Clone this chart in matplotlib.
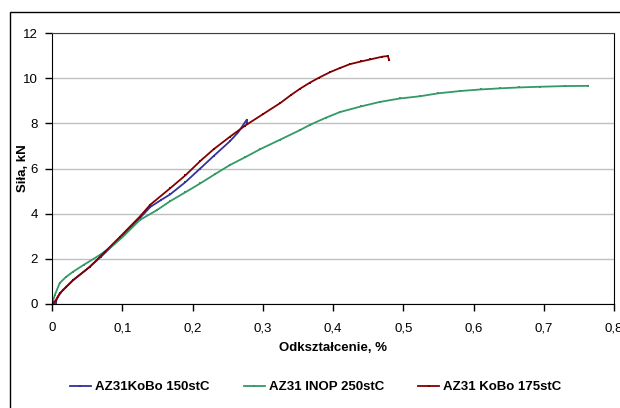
import matplotlib
matplotlib.use('Agg')
import matplotlib.pyplot as plt
from matplotlib.patches import Rectangle

plt.rcParams['font.family'] = ['Liberation Sans', 'DejaVu Sans']

# Odkształcenie [%] / Siła [kN]
x_150 = [0, 0.005, 0.008, 0.015, 0.03, 0.05, 0.07, 0.1, 0.125, 0.14, 0.155,
         0.168, 0.19, 0.211, 0.23, 0.253, 0.265, 0.277, 0.278]
y_150 = [0, 0.05, 0.3, 0.6, 1.05, 1.55, 2.1, 3.0, 3.8, 4.3, 4.6,
         4.85, 5.4, 6.0, 6.55, 7.2, 7.6, 8.15, 8.0]

x_250 = [0, 0.004, 0.011, 0.02, 0.03, 0.045, 0.068, 0.085, 0.1, 0.125, 0.149,
         0.168, 0.19, 0.211, 0.232, 0.253, 0.275, 0.296, 0.325, 0.353, 0.367,
         0.39, 0.41, 0.44, 0.467, 0.495, 0.524, 0.55, 0.581, 0.61, 0.638,
         0.665, 0.695, 0.73, 0.763]
y_250 = [0, 0.4, 0.93, 1.2, 1.43, 1.73, 2.17, 2.55, 2.95, 3.72, 4.15,
         4.55, 4.95, 5.34, 5.75, 6.15, 6.5, 6.85, 7.28, 7.7, 7.93,
         8.25, 8.5, 8.75, 8.95, 9.1, 9.2, 9.33, 9.43, 9.5, 9.55,
         9.59, 9.62, 9.65, 9.66]

x_175 = [0, 0.005, 0.011, 0.02, 0.03, 0.054, 0.075, 0.097, 0.125, 0.14, 0.168,
         0.19, 0.211, 0.23, 0.253, 0.275, 0.3, 0.325, 0.34, 0.353, 0.367,
         0.38, 0.396, 0.41, 0.424, 0.44, 0.453, 0.47, 0.478, 0.48]
y_175 = [0, 0.15, 0.47, 0.75, 1.06, 1.65, 2.3, 2.98, 3.87, 4.4, 5.12,
         5.7, 6.33, 6.85, 7.4, 7.9, 8.4, 8.9, 9.25, 9.53, 9.8,
         10.02, 10.27, 10.45, 10.62, 10.74, 10.83, 10.95, 10.98, 10.8]

labels = ['AZ31KoBo 150stC', 'AZ31 INOP 250stC', 'AZ31 KoBo 175stC']
colors = ['#333399', '#339966', '#800000']

xticks = [0, 0.1, 0.2, 0.3, 0.4, 0.5, 0.6, 0.7, 0.8]
xtick_labels = ['0', '0,1', '0,2', '0,3', '0,4', '0,5', '0,6', '0,7', '0,8']
yticks = [0, 2, 4, 6, 8, 10, 12]

fig = plt.figure(figsize=(6.2, 4.08), dpi=100)
fig.patch.set_facecolor('white')
# outer chart frame (only left and top edges are inside the image)
fig.patches.append(Rectangle((10 / 620, -0.1), 1.2, 1 - 12 / 408 + 0.1,
                             transform=fig.transFigure, fill=False,
                             edgecolor='black', lw=1.0))

ax = fig.add_axes([52 / 620, 1 - 304 / 408, 562 / 620, 271 / 408])

series = [(x_150, y_150), (x_250, y_250), (x_175, y_175)]
for (xs, ys), lab, c in zip(series, labels, colors):
    ax.plot(xs, ys, color=c, lw=1.3, marker='s', ms=2.0, mew=0, label=lab)

ax.set_xlim(0, 0.8)
ax.set_ylim(0, 12)
ax.set_xticks(xticks)
ax.set_xticklabels(xtick_labels)
ax.set_yticks(yticks)
ax.yaxis.grid(True, color='#c0c0c0', lw=1)
ax.set_axisbelow(True)
ax.tick_params(axis='both', direction='out', length=5, width=1, labelsize=9.5,
               colors='black')
ax.tick_params(axis='x', pad=8)
ax.tick_params(axis='y', pad=5)
for s in ['left', 'bottom', 'right']:
    ax.spines[s].set_color('black')
ax.spines['top'].set_color('#404040')

ax.set_xlabel('Odkształcenie, %', fontsize=9.5, fontweight='bold', labelpad=6)
ax.set_ylabel('Siła, kN', fontsize=9.5, fontweight='bold')
ax.yaxis.set_label_coords(-0.041, 0.5)

fig.legend(loc='center', bbox_to_anchor=(0.509, 1 - 387 / 408), ncol=3,
           frameon=False, prop={'size': 9.5, 'weight': 'bold'},
           handlelength=1.6, handletextpad=0.3, columnspacing=2.6)

fig.savefig('out.png', dpi=100)
